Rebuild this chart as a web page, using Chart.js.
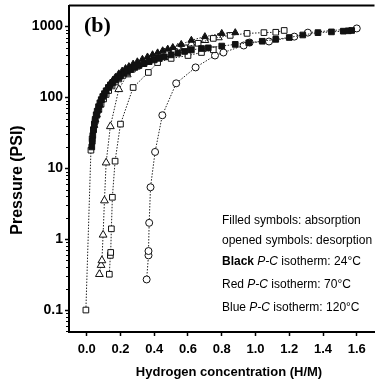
<!DOCTYPE html>
<html>
<head>
<meta charset="utf-8">
<script src="https://cdn.jsdelivr.net/npm/chart.js@4.4.0/dist/chart.umd.min.js"></script>
<style>
  html, body { margin: 0; padding: 0; background: #fff; }
</style>
</head>
<body>
<canvas id="pcChart" width="380" height="382"></canvas>
<script>
// axis ticks
const xTickValues = [0, 0.2, 0.4, 0.6, 0.8, 1.0, 1.2, 1.4, 1.6];
const xTickLabels = ['0.0', '0.2', '0.4', '0.6', '0.8', '1.0', '1.2', '1.4', '1.6'];
const yTickValues = [0.1, 1, 10, 100, 1000];
const yTickLabels = ['0.1', '1', '10', '100', '1000'];

// black P-C isotherm (24 C), absorption - filled squares
const abs24X = [0.030, 0.033, 0.036, 0.040, 0.045, 0.050, 0.056, 0.062, 0.070, 0.078, 0.086, 0.095, 0.105, 0.115, 0.128, 0.140, 0.155, 0.170, 0.185, 0.200, 0.220, 0.240, 0.260, 0.285, 0.310, 0.340, 0.370, 0.400, 0.430, 0.460, 0.500, 0.540, 0.580, 0.620, 0.680, 0.720, 0.800, 0.880, 0.960, 1.040, 1.120, 1.200, 1.280, 1.370, 1.450, 1.520, 1.550, 1.570];
const abs24Y = [20, 24, 29, 35, 42, 49, 57, 64, 74, 84, 93, 103, 113, 124, 138, 150, 163, 176, 188, 200, 218, 232, 247, 265, 282, 300, 320, 338, 356, 373, 398, 420, 445, 468, 490, 500, 530, 560, 590, 620, 660, 700, 760, 820, 840, 860, 870, 880];

// 24 C desorption - open squares
const des24X = [-0.005, 0.025, 0.032, 0.040, 0.050, 0.060, 0.072, 0.085, 0.100, 0.115, 0.130, 0.150, 0.170, 0.190, 0.215, 0.240, 0.270, 0.300, 0.330, 0.360, 0.400, 0.440, 0.480, 0.520, 0.580, 0.660, 0.750, 0.850, 0.950, 1.050, 1.120, 1.170];
const des24Y = [0.1, 18, 26, 35, 46, 56, 68, 80, 95, 110, 125, 145, 165, 182, 205, 225, 250, 275, 300, 325, 355, 385, 415, 445, 500, 580, 680, 750, 800, 820, 830, 880];

// 70 C absorption - filled triangles
const abs70X = [0.045, 0.052, 0.060, 0.068, 0.078, 0.088, 0.100, 0.112, 0.125, 0.140, 0.155, 0.170, 0.190, 0.210, 0.230, 0.250, 0.275, 0.300, 0.330, 0.360, 0.390, 0.420, 0.450, 0.480, 0.510, 0.560, 0.620, 0.700, 0.800, 0.880];
const abs70Y = [40, 48, 57, 66, 78, 92, 108, 124, 140, 158, 175, 192, 215, 235, 255, 272, 295, 318, 345, 372, 400, 425, 455, 480, 505, 560, 640, 720, 800, 820];

// 70 C desorption - open triangles
const des70X = [0.075, 0.085, 0.09, 0.097, 0.105, 0.115, 0.14, 0.19, 0.24, 0.30, 0.38, 0.46, 0.54, 0.62, 0.70, 0.78];
const des70Y = [0.32, 0.43, 0.5, 1.15, 3.5, 12, 39, 130, 210, 280, 350, 430, 500, 570, 640, 700];

// 120 C desorption - open squares
const des120X = [0.134, 0.14, 0.142, 0.146, 0.152, 0.168, 0.20, 0.275, 0.365, 0.42, 0.50, 0.60, 0.68, 0.75];
const des120Y = [0.32, 0.59, 0.65, 1.4, 3.9, 12.6, 42, 138, 225, 310, 355, 390, 430, 470];

// open circles, right-hand curve
const circX = [0.355, 0.366, 0.366, 0.37, 0.378, 0.405, 0.448, 0.53, 0.645, 0.76, 0.81, 0.93, 0.965, 1.08, 1.23, 1.31, 1.60];
const circY = [0.27, 0.59, 0.68, 1.7, 5.4, 17, 56, 158, 265, 390, 430, 540, 595, 615, 720, 820, 940];

const pts = (xs, ys) => xs.map((x, i) => ({ x: x, y: ys[i] }));

function series(label, xs, ys, style, filled, radius) {
    return {
        label: label,
        data: pts(xs, ys),
        showLine: true,
        borderColor: '#222',
        borderWidth: 1,
        borderDash: [1.5, 1.5],
        pointStyle: style,
        pointRadius: radius,
        pointBackgroundColor: filled ? '#111' : '#fff',
        pointBorderColor: '#111',
        pointBorderWidth: 1,
        tension: 0
    };
}

// extra drawing: frame top, minor ticks, panel letter, titles, notes
const decorations = {
    id: 'decorations',
    afterDraw(chart) {
        const ctx = chart.ctx;
        const area = chart.chartArea;
        const y = chart.scales.y;
        ctx.save();
        ctx.strokeStyle = '#000';
        ctx.lineWidth = 2;
        ctx.beginPath();
        ctx.moveTo(area.left, area.top);
        ctx.lineTo(area.right, area.top);
        ctx.stroke();

        // minor log ticks
        ctx.lineWidth = 1;
        for (let d = -2; d <= 3; d++) {
            for (let m = 2; m <= 9; m++) {
                const v = m * Math.pow(10, d);
                if (v < y.min || v > y.max) continue;
                const py = Math.round(y.getPixelForValue(v)) + 0.5;
                ctx.beginPath();
                ctx.moveTo(area.left - 3, py);
                ctx.lineTo(area.left, py);
                ctx.stroke();
            }
        }

        ctx.fillStyle = '#000';
        ctx.font = 'bold 22px "Liberation Serif", "Times New Roman", serif';
        ctx.textBaseline = 'alphabetic';
        ctx.textAlign = 'left';
        ctx.fillText('(b)', 84, 32);

        // axis titles
        ctx.font = 'bold 16px "Liberation Sans", Arial, sans-serif';
        ctx.textAlign = 'center';
        ctx.textBaseline = 'middle';
        ctx.save();
        ctx.translate(18, 180);
        ctx.rotate(-Math.PI / 2);
        ctx.fillText('Pressure (PSI)', 0, 0);
        ctx.restore();
        ctx.font = 'bold 13px "Liberation Sans", Arial, sans-serif';
        ctx.fillText('Hydrogen concentration (H/M)', 229, 372);

        // notes block
        const lines = [
            [['Filled symbols: absorption', '']],
            [['opened symbols: desorption', '']],
            [['Black', 'bold '], [' P-C', 'italic '], [' isotherm: 24\u00B0C', '']],
            [['Red ', ''], ['P-C', 'italic '], [' isotherm: 70\u00B0C', '']],
            [['Blue ', ''], ['P-C', 'italic '], [' isotherm: 120\u00B0C', '']]
        ];
        const baselines = [224, 244, 265, 288, 311];
        ctx.textAlign = 'left';
        ctx.textBaseline = 'alphabetic';
        lines.forEach((segs, i) => {
            let x = 222;
            segs.forEach(([txt, st]) => {
                ctx.font = st + '12px "Liberation Sans", Arial, sans-serif';
                ctx.fillText(txt, x, baselines[i]);
                x += ctx.measureText(txt).width;
            });
        });
        ctx.restore();
    }
};

const ctx = document.getElementById('pcChart').getContext('2d');
new Chart(ctx, {
    type: 'scatter',
    data: {
        datasets: [
            series('24C absorption', abs24X, abs24Y, 'rect', true, 4),
            series('70C absorption', abs70X, abs70Y, 'triangle', true, 4),
            series('24C desorption', des24X, des24Y, 'rect', false, 4),
            series('70C desorption', des70X, des70Y, 'triangle', false, 4.5),
            series('120C desorption', des120X, des120Y, 'rect', false, 4),
            series('circles', circX, circY, 'circle', false, 3.5)
        ]
    },
    options: {
        responsive: false,
        animation: false,
        layout: { padding: { top: 5, right: 0, left: 0, bottom: 0 } },
        plugins: {
            legend: { display: false },
            tooltip: { enabled: false }
        },
        scales: {
            x: {
                type: 'linear',
                min: -0.105,
                max: 1.705,
                afterBuildTicks: (scale) => { scale.ticks = xTickValues.map(v => ({ value: v })); },
                afterFit: (scale) => { scale.height = 50; scale.paddingLeft = 0; scale.paddingRight = 0; },
                ticks: {
                    color: '#000',
                    padding: 6,
                    font: { family: '"Liberation Sans", Arial, sans-serif', size: 13, weight: 'bold' },
                    callback: (value) => xTickLabels[xTickValues.indexOf(value)]
                },
                grid: { drawOnChartArea: false, drawTicks: true, tickLength: 4, color: '#000', tickWidth: 1.5 },
                border: { display: true, color: '#000', width: 2 }
            },
            y: {
                type: 'logarithmic',
                min: 0.049,
                max: 1980,
                afterBuildTicks: (scale) => { scale.ticks = yTickValues.map(v => ({ value: v, major: true })); },
                afterFit: (scale) => { scale.width = 69; scale.paddingTop = 0; scale.paddingBottom = 0; },
                ticks: {
                    color: '#000',
                    padding: 2,
                    font: { family: '"Liberation Sans", Arial, sans-serif', size: 14, weight: 'bold' },
                    callback: (value) => yTickLabels[yTickValues.indexOf(value)]
                },
                grid: { drawOnChartArea: false, drawTicks: true, tickLength: 4, color: '#000', tickWidth: 1.5 },
                border: { display: true, color: '#000', width: 2 }
            }
        }
    },
    plugins: [decorations]
});
</script>
</body>
</html>
